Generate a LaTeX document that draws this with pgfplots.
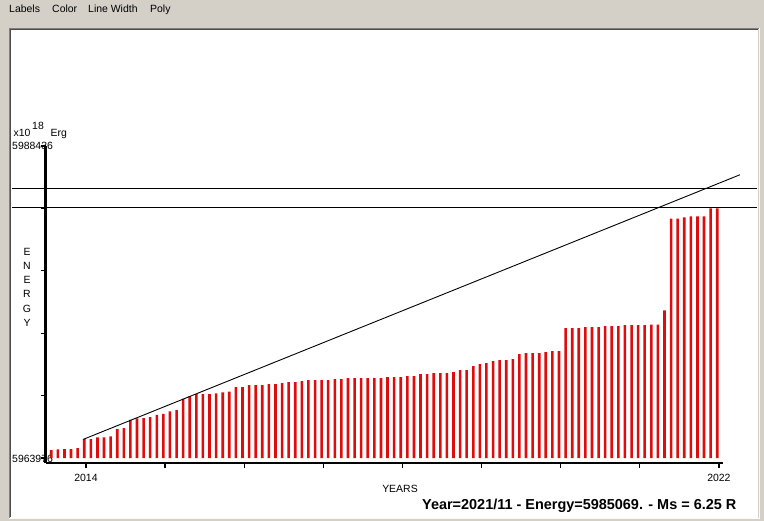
\documentclass[border=0pt]{standalone}
\usepackage{pgfplots}
\pgfplotsset{compat=1.18}
\usepackage{fontspec}
\setmainfont{Liberation Sans}
\definecolor{winbg}{RGB}{212,208,200}
\definecolor{barred}{RGB}{222,12,12}
\newcommand\ui{\fontsize{10.5}{12}\selectfont}

% monthly energy bars, values relative to 5963976 (x10^18 Erg)
\pgfplotstableread{
year     energy
2013.561 626
2013.645 681
2013.728 704
2013.811 704
2013.895 783
2013.978 1487
2014.061 1487
2014.145 1620
2014.228 1620
2014.311 1698
2014.395 2270
2014.478 2348
2014.561 2998
2014.645 3107
2014.728 3131
2014.811 3209
2014.895 3389
2014.978 3467
2015.061 3655
2015.145 3757
2015.228 4641
2015.311 4853
2015.395 5009
2015.478 5009
2015.561 5009
2015.645 5064
2015.728 5142
2015.811 5205
2015.895 5557
2015.978 5557
2016.061 5714
2016.145 5714
2016.228 5714
2016.311 5792
2016.395 5792
2016.478 5870
2016.561 5949
2016.645 5949
2016.728 6027
2016.811 6105
2016.895 6105
2016.978 6105
2017.061 6105
2017.145 6183
2017.228 6183
2017.311 6262
2017.395 6262
2017.478 6262
2017.561 6262
2017.645 6262
2017.728 6262
2017.811 6340
2017.895 6340
2017.978 6340
2018.061 6418
2018.145 6418
2018.228 6575
2018.311 6575
2018.395 6653
2018.478 6653
2018.561 6653
2018.645 6731
2018.728 6888
2018.811 6888
2018.895 7201
2018.978 7357
2019.061 7436
2019.145 7592
2019.228 7670
2019.311 7670
2019.395 7749
2019.478 8140
2019.561 8218
2019.645 8218
2019.728 8218
2019.811 8297
2019.895 8375
2019.978 8375
2020.061 10175
2020.145 10175
2020.228 10175
2020.311 10253
2020.395 10253
2020.478 10253
2020.561 10332
2020.645 10332
2020.728 10332
2020.811 10410
2020.895 10410
2020.978 10410
2021.061 10410
2021.145 10465
2021.228 10465
2021.311 11584
2021.395 18761
2021.478 18761
2021.561 18863
2021.645 18941
2021.728 18941
2021.811 18941
2021.895 19568
2021.978 19568
}\energydata

\begin{document}
\begin{tikzpicture}
\useasboundingbox (0,0) rectangle (764bp,521bp);
\begin{scope}[x=1bp,y=-1bp,shift={(0,521bp)}]
  % window
  \fill[winbg] (0,0) rectangle (764,521);
  \fill[white] (10,29) rectangle (758,518);
  \draw[line width=1bp, gray] (9.5,518) -- (9.5,28.5) -- (758.5,28.5);
  \draw[line width=1bp, black!70] (10.5,517) -- (10.5,29.5) -- (757.5,29.5);
  \draw[line width=1bp, white!90!winbg] (9,518.5) -- (759.5,518.5) -- (759.5,28);
  % menu
  \node[anchor=base west, inner sep=0, font=\ui] at (9,13) {Labels};
  \node[anchor=base west, inner sep=0, font=\ui] at (52,13) {Color};
  \node[anchor=base west, inner sep=0, font=\ui] at (88,13) {Line Width};
  \node[anchor=base west, inner sep=0, font=\ui] at (150,13) {Poly};
  % y labels
  \node[anchor=base west, inner sep=0, font=\ui] at (13.5,137) {x10};
  \node[anchor=base west, inner sep=0, font=\ui] at (32,129.5) {18};
  \node[anchor=base west, inner sep=0, font=\ui] at (50.5,137) {Erg};
  \node[anchor=base west, inner sep=0, font=\ui] at (12,149.3) {5988436};
  \node[anchor=base west, inner sep=0, font=\ui] at (12,462.7) {5963976};
  \foreach \l/\yy in {E/252,N/266,E/280,R/294,G/309,Y/323}
    \node[inner sep=0, font=\ui] at (27,\yy) {\l};
  \node[inner sep=0, font=\ui] at (400,489) {YEARS};
  \node[anchor=base west, inner sep=0, font=\fontsize{14.5}{16}\selectfont\bfseries]
    at (422,509.3) {Year=2021/11 - Energy=5985069. - Ms = 6.25 R};
\end{scope}

\begin{axis}[
    at={(45.7bp,58bp)}, anchor=south west,
    scale only axis,
    width=676.8bp, height=317bp,
    xmin=2013.4907, xmax=2022.0444,
    ymin=-390, ymax=24460,
    axis x line*=bottom, axis y line*=left,
    axis line style={-, black, line width=2.5bp},
    tick align=outside, major tick length=5bp,
    tick style={black, line width=1.2bp},
    xtick={2014,...,2022}, xticklabels={2014,,,,,,,,2022},
    xticklabel style={font=\ui, yshift=-2.5bp},
    ytick={0,4892,9784,14676,19568,24460}, yticklabels={},
    scaled y ticks=false, scaled x ticks=false,
    clip=false,
]
\addplot[ybar, bar width=2.6bp, fill=barred, draw=none] table[x=year, y=energy] {\energydata};
% level lines and trend
\addplot[black, line width=0.9bp] coordinates {(2013.065,21093) (2022.48,21093)};
\addplot[black, line width=0.9bp] coordinates {(2013.065,19620) (2022.48,19620)};
\addplot[black, line width=0.9bp] coordinates {(2013.966,1464) (2022.265,22205)};
\end{axis}
\end{tikzpicture}
\end{document}
